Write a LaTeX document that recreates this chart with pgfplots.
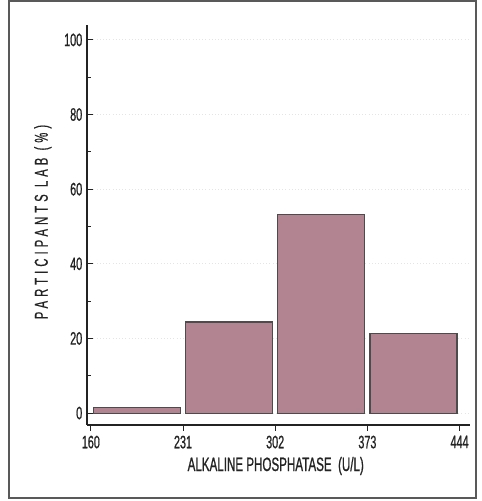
\documentclass[border=0pt]{standalone}
\usepackage{pgfplots}
\pgfplotsset{compat=1.18}
\usepackage{fontspec}
\setmainfont{Liberation Sans}
\newfontfamily\cond[FakeStretch=0.6,FakeBold=0.8]{Liberation Sans}
\newfontfamily\condls[FakeStretch=0.6,LetterSpace=22,FakeBold=0.6]{Liberation Sans}
\definecolor{barfill}{RGB}{178,132,145}
\definecolor{txt}{RGB}{35,35,35}
\begin{document}
\begin{tikzpicture}
\begin{axis}[
    width=287.25pt, height=300pt, scale only axis,
    clip=false,
    xmin=157, xmax=452,
    ymin=-3.2, ymax=104,
    axis x line=bottom, axis y line=left,
    axis line style={-, line width=1pt, txt},
    xtick={160,231,302,373,444},
    ytick={0,20,40,60,80,100},
    minor y tick num=1,
    tick align=inside,
    major tick length=4.5pt, minor tick length=3pt,
    tick style={txt, line width=0.7pt},
    /pgf/number format/assume math mode=true,
    ticklabel style={font=\cond\fontsize{13.5}{15}\selectfont, text=txt},
    ymajorgrids=true,
    grid style={gray!20, dotted, line width=0.8pt},
    ybar, bar width=67, bar shift=0,
    xlabel={\cond\fontsize{14.5}{16}\selectfont ALKALINE PHOSPHATASE\ \ (U/L)},
    xlabel style={at={(axis description cs:0.493,-0.1025)}, anchor=center, text=txt},
    ylabel={\condls\fontsize{14}{15}\selectfont PARTICIPANTS LAB (\%)},
    ylabel style={at={(axis description cs:-0.115,0.5075)}, anchor=center, rotate=0, text=txt},
]
\addplot[fill=barfill, draw=gray!60!black, line width=0.8pt] coordinates {
    (195.5,1.5) (266.5,24.4) (337.5,53.3) (408.5,21.4)
};
\draw[line width=1.2pt, gray!70!black] (axis description cs:-0.204,-0.1825) rectangle (axis description cs:1.016,1.06);
\path (axis description cs:-0.227,-0.19) rectangle (axis description cs:1.031,1.0625);
\end{axis}
\end{tikzpicture}
\end{document}
